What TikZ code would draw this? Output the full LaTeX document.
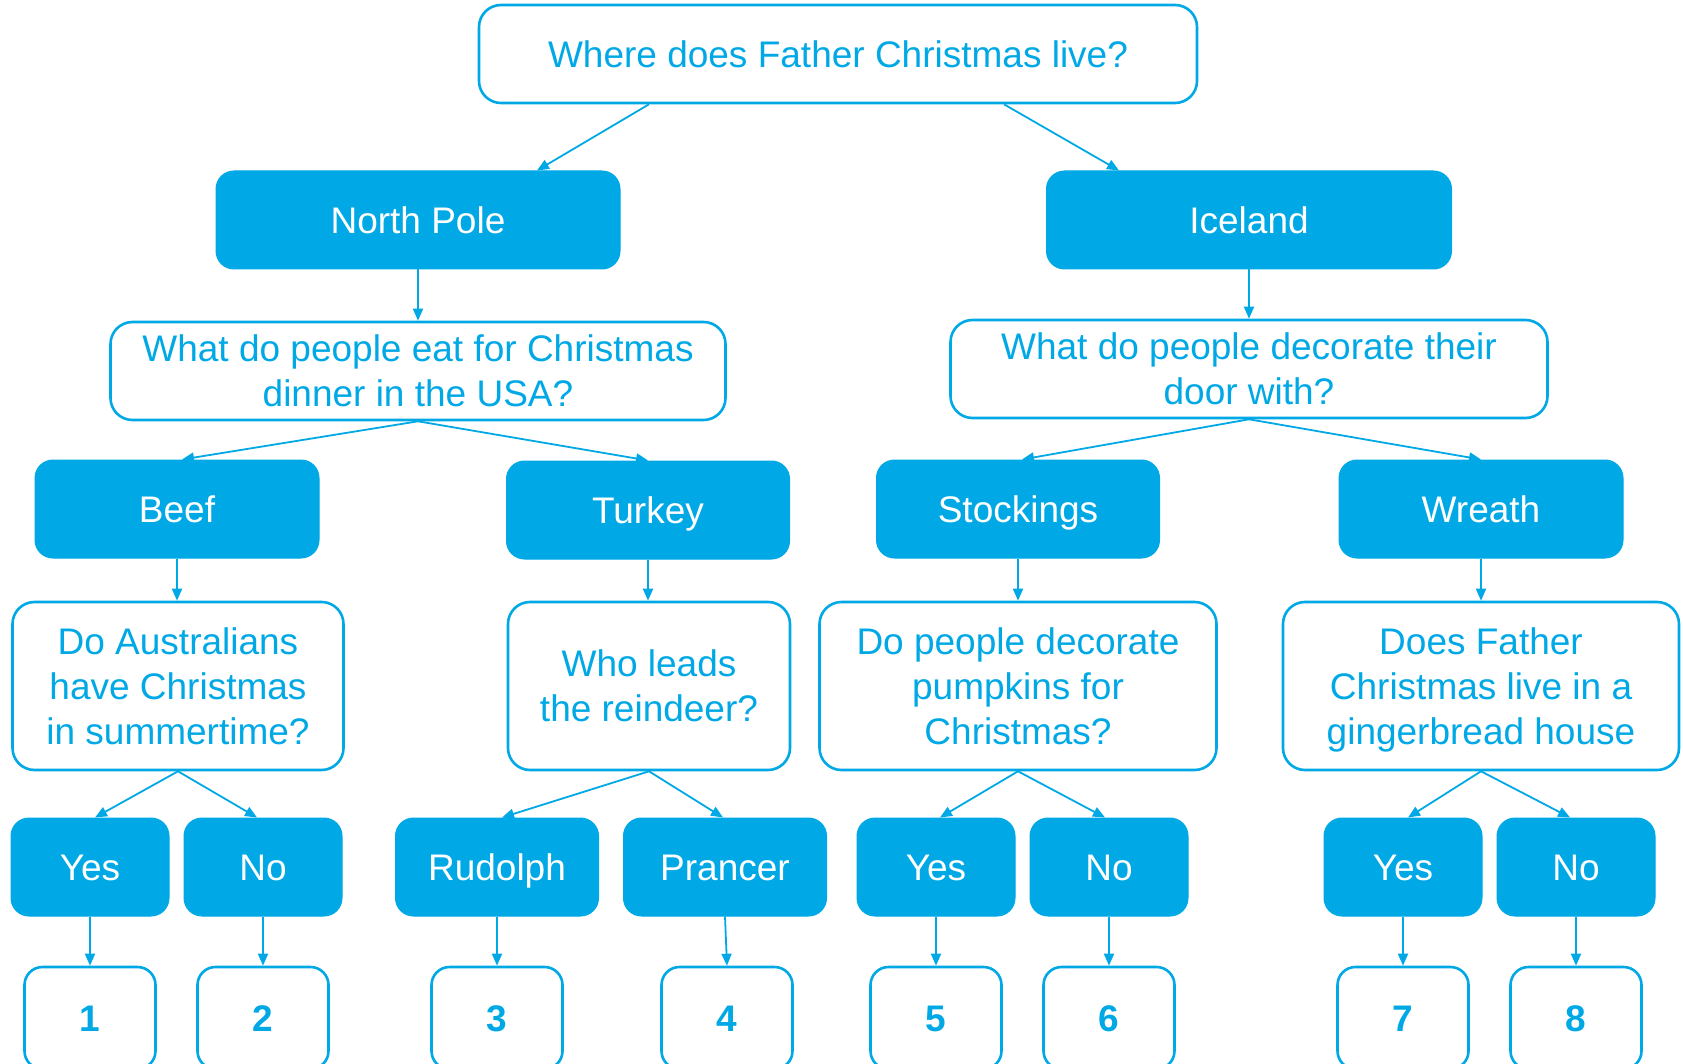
\documentclass[tikz,border=0pt]{standalone}
\usepackage{fontspec}
\setmainfont{Liberation Sans}
\usetikzlibrary{arrows.meta}
\definecolor{cb}{HTML}{00A9E6}
\begin{document}
\begin{tikzpicture}[x=1pt,y=-1pt,
  txt/.style={font=\fontsize{37}{45}\selectfont, align=center, inner sep=0pt},
  one/.style={text height=26.5pt, text depth=0pt},
  fillbox/.style={txt, one, fill=cb, draw=cb, line width=1pt, rounded corners=18pt, text=white, minimum height=98pt},
  qbox/.style={txt, draw=cb, line width=2.6pt, fill=white, rounded corners=22pt, text=cb},
  numbox/.style={draw=cb, line width=2.6pt, fill=white, rounded corners=18pt, text=cb, inner sep=0pt,
     font=\fontsize{37}{45}\selectfont\bfseries, text height=26.5pt, text depth=0pt,
     minimum width=131pt, minimum height=102pt},
  conn/.style={draw=cb, line width=1.8pt, -{Triangle[length=12pt,width=10pt]}}]
\useasboundingbox (0,0) rectangle (1683,1064);

% level 0
\node[qbox, one, minimum width=718pt, minimum height=98pt] (top) at (838,54) {Where does Father Christmas live?};
% level 1
\node[fillbox, minimum width=404pt] (np) at (418,220) {North Pole};
\node[fillbox, minimum width=405pt] (ic) at (1249,220) {Iceland};
% level 2
\node[qbox, minimum width=615pt, minimum height=98pt] (ql) at (418,371) {What do people eat for Christmas\\dinner in the USA?};
\node[qbox, minimum width=597pt, minimum height=98pt] (qr) at (1249,369) {What do people decorate their\\door with?};
% level 3
\node[fillbox, minimum width=284pt] (beef) at (177,509) {Beef};
\node[fillbox, minimum width=283pt] (turkey) at (648,510) {Turkey};
\node[fillbox, minimum width=283pt] (stock) at (1018,509) {Stockings};
\node[fillbox, minimum width=284pt] (wreath) at (1481,509) {Wreath};
% level 4
\node[qbox, minimum width=331pt, minimum height=168pt] (qa) at (178,686) {Do Australians\\have Christmas\\in summertime?};
\node[qbox, minimum width=282pt, minimum height=168pt] (qb) at (649,686) {Who leads\\the reindeer?};
\node[qbox, minimum width=397pt, minimum height=168pt] (qc) at (1018,686) {Do people decorate\\pumpkins for\\Christmas?};
\node[qbox, minimum width=396pt, minimum height=168pt] (qd) at (1481,686) {Does Father\\Christmas live in a\\\raisebox{0pt}[\height][0pt]{gingerbread house}};
% level 5
\node[fillbox, minimum width=158pt] (y1) at (90,867) {Yes};
\node[fillbox, minimum width=158pt] (n1) at (263,867) {No};
\node[fillbox, minimum width=203pt] (ru) at (497,867) {Rudolph};
\node[fillbox, minimum width=203pt] (pr) at (725,867) {Prancer};
\node[fillbox, minimum width=158pt] (y2) at (936,867) {Yes};
\node[fillbox, minimum width=158pt] (n2) at (1109,867) {No};
\node[fillbox, minimum width=158pt] (y3) at (1403,867) {Yes};
\node[fillbox, minimum width=158pt] (n3) at (1576,867) {No};
% level 6
\node[numbox] (b1) at (90,1018) {1};
\node[numbox] (b2) at (263,1018) {2};
\node[numbox] (b3) at (497,1018) {3};
\node[numbox] (b4) at (727,1018) {4};
\node[numbox] (b5) at (936,1018) {5};
\node[numbox] (b6) at (1109,1018) {6};
\node[numbox] (b7) at (1403,1018) {7};
\node[numbox] (b8) at (1576,1018) {8};

% connectors
\draw[conn] ([xshift=-189pt]top.south) -- ([xshift=119pt]np.north);
\draw[conn] ([xshift=166pt]top.south) -- ([xshift=-130pt]ic.north);
\draw[conn] (np.south) -- (ql.north);
\draw[conn] (ic.south) -- (qr.north);
\draw[conn] (ql.south) -- ([xshift=5pt]beef.north);
\draw[conn] (ql.south) -- (turkey.north);
\draw[conn] (qr.south) -- ([xshift=4pt]stock.north);
\draw[conn] (qr.south) -- (wreath.north);
\draw[conn] (beef.south) -- (beef.south |- qa.north);
\draw[conn] (turkey.south) -- (turkey.south |- qb.north);
\draw[conn] (stock.south) -- (qc.north);
\draw[conn] (wreath.south) -- (qd.north);
\draw[conn] (qa.south) -- ([xshift=5pt]y1.north);
\draw[conn] (qa.south) -- ([xshift=-6pt]n1.north);
\draw[conn] (qb.south) -- ([xshift=5pt]ru.north);
\draw[conn] (qb.south) -- ([xshift=-2pt]pr.north);
\draw[conn] (qc.south) -- ([xshift=4pt]y2.north);
\draw[conn] (qc.south) -- ([xshift=-4pt]n2.north);
\draw[conn] (qd.south) -- ([xshift=5pt]y3.north);
\draw[conn] (qd.south) -- ([xshift=-6pt]n3.north);
\draw[conn] (y1.south) -- (b1.north);
\draw[conn] (n1.south) -- (b2.north);
\draw[conn] (ru.south) -- (b3.north);
\draw[conn] (pr.south) -- (b4.north);
\draw[conn] (y2.south) -- (b5.north);
\draw[conn] (n2.south) -- (b6.north);
\draw[conn] (y3.south) -- (b7.north);
\draw[conn] (n3.south) -- (b8.north);
\end{tikzpicture}
\end{document}
